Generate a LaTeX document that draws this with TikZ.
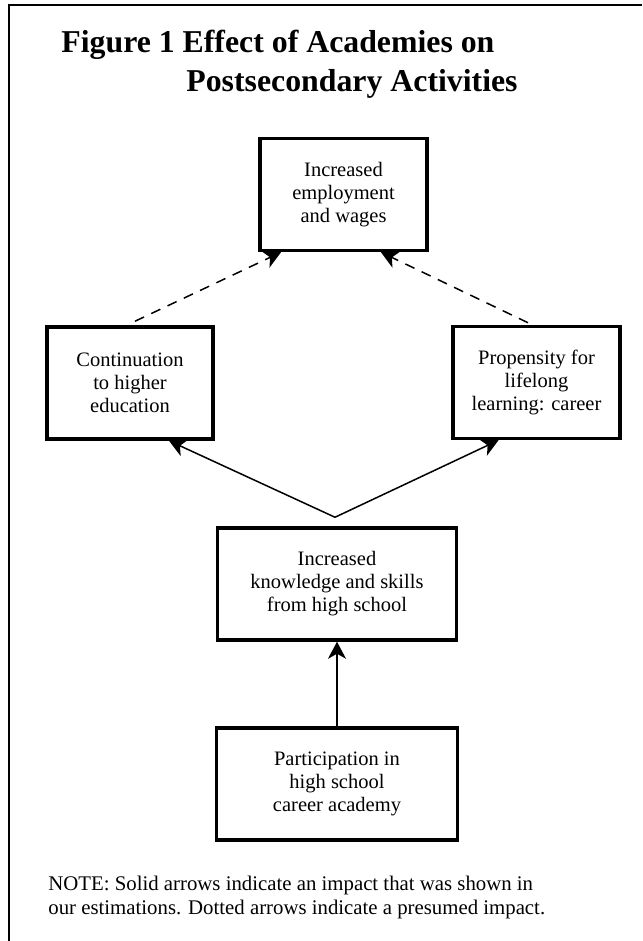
\documentclass[tikz,border=0pt]{standalone}
\usepackage{fontspec}
\setmainfont{Liberation Serif}
\usetikzlibrary{arrows.meta,calc}
\tikzset{
stage/.style={draw, line width=1.75pt, minimum height=56pt, inner sep=0pt, align=center, font=\fontsize{10.25}{11.5}\selectfont},
impact/.style={-{Stealth[length=8.5pt,width=9pt,inset=2.5pt]}, line width=0.75pt},
presumed/.style={impact, dash pattern=on 5pt off 4pt},
remark/.style={anchor=base west, inner sep=0pt, font=\fontsize{10.4}{12}\selectfont}
}
\begin{document}
\begin{tikzpicture}[x=0.5pt,y=-0.5pt]
\useasboundingbox (0,0) rectangle (642,941);
\draw[line width=1pt] (9,941) -- (9,5) -- (642,5);
\node[anchor=base west, inner sep=0pt, font=\fontsize{15.9}{19}\bfseries\selectfont] (title) at (61,53) {Figure 1 Effect of Academies on};
\node[anchor=base west, inner sep=0pt, font=\fontsize{15.9}{19}\bfseries\selectfont] (subtitle) at (186,92) {Postsecondary Activities};
\node[stage, minimum width=83.5pt] (wage) at (343.5,194.5) {Increased\\employment\\and wages};
\node[stage, minimum width=83pt] (cont) at (130,383) {Continuation\\to higher\\education};
\node[stage, minimum width=83.5pt] (life) at (536.5,382.5) {Propensity for\\lifelong\\learning: career};
\node[stage, minimum width=119.5pt] (know) at (337,584) {Increased\\knowledge and skills\\from high school};
\node[stage, minimum width=120.5pt] (part) at (337,784) {Participation in\\high school\\career academy};
\coordinate (fork) at ($(know.north)+(-2,-9)$);
\draw[impact] (part.north) -- (know.south);
\draw[impact] (fork) -- ([xshift=19.5pt]cont.south);
\draw[impact] (fork) -- ([xshift=-19pt]life.south);
\draw[presumed] ([xshift=2.5pt,yshift=2pt]cont.north) -- ([xshift=-31.25pt]wage.south);
\draw[presumed] ([xshift=-4.25pt,yshift=1pt]life.north) -- ([xshift=18.75pt]wage.south);
\node[remark] (note) at (48,890) {NOTE: Solid arrows indicate an impact that was shown in};
\node[remark] (note2) at (48,914) {our estimations. Dotted arrows indicate a presumed impact.};
\end{tikzpicture}
\end{document}
